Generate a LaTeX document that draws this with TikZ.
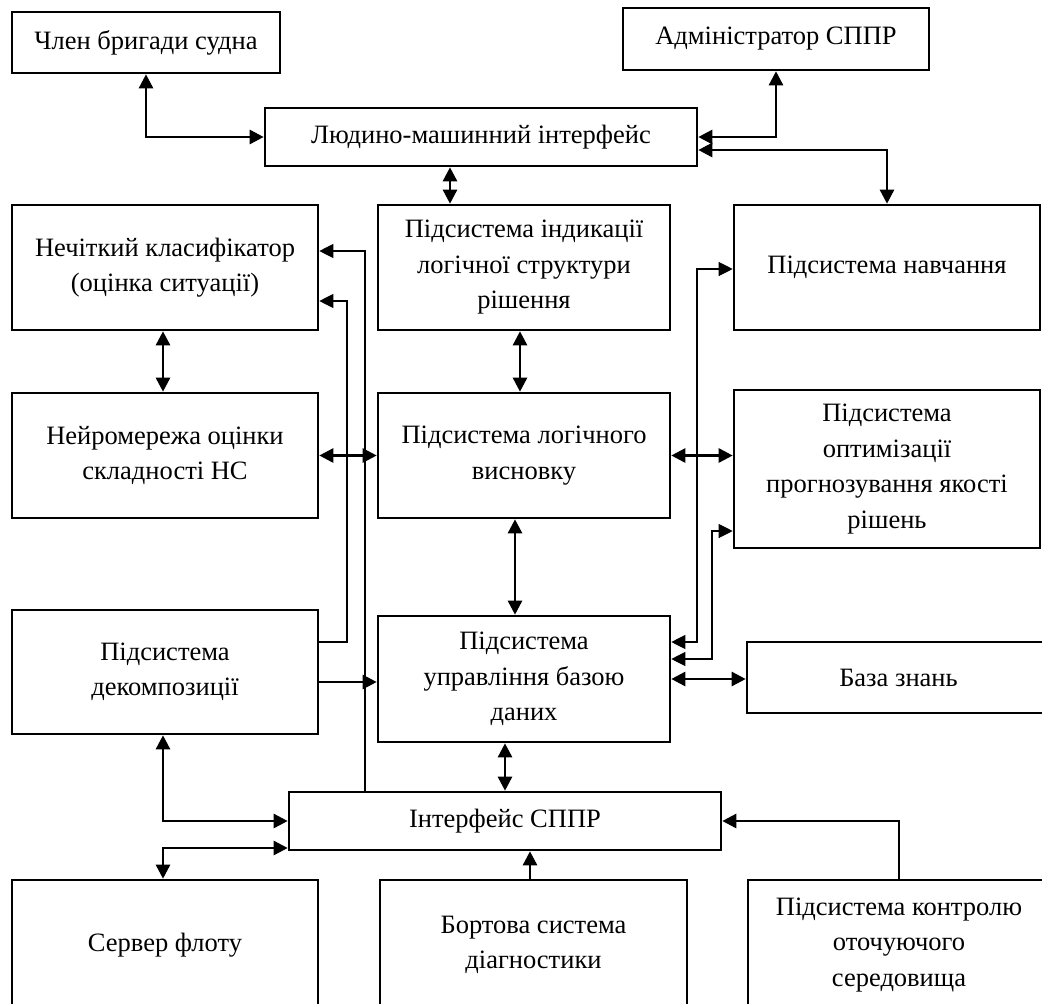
\documentclass[tikz,border=0pt]{standalone}
\usepackage{fontspec}
\setmainfont{Liberation Serif}
\usetikzlibrary{arrows.meta}
\begin{document}
\begin{tikzpicture}[x=1pt,y=-1pt,
  box/.style={draw,line width=2.6pt,rectangle,inner sep=0pt,align=center,
    font=\fontsize{26.5}{35.5}\selectfont},
  conn/.style={line width=2.6pt,{Triangle[length=14pt,width=14pt]}-{Triangle[length=14pt,width=14pt]}},
  conn1/.style={line width=2.6pt,-{Triangle[length=14pt,width=14pt]}},
  thinconn/.style={line width=1.2pt,{Triangle[length=14pt,width=14pt]}-{Triangle[length=14pt,width=14pt]}},
  thinconn1/.style={line width=1.2pt,-{Triangle[length=14pt,width=14pt]}}]
\useasboundingbox (0,0) rectangle (1042,1004);
\clip (0,0) rectangle (1042,1004);
\node[box,minimum width=268pt,minimum height=61pt] (crew) at (146,42.5) {Член бригади судна};
\node[box,minimum width=306pt,minimum height=62pt] (admin) at (776,39) {Адміністратор СППР};
\node[box,minimum width=432pt,minimum height=58pt] (hmi) at (481,137) {Людино-машинний інтерфейс};
\node[box,minimum width=306pt,minimum height=125pt] (fuzzy) at (165,267.5) {Нечіткий класифікатор\\(оцінка ситуації)};
\node[box,minimum width=292pt,minimum height=125pt] (ind) at (524,267.5) {Підсистема індикації\\логічної структури\\рішення};
\node[box,minimum width=306pt,minimum height=125pt] (learn) at (887,267.5) {Підсистема навчання};
\node[box,minimum width=306pt,minimum height=125pt] (nn) at (165,455.5) {Нейромережа оцінки\\складності НС};
\node[box,minimum width=292pt,minimum height=125pt] (infer) at (524,455.5) {Підсистема логічного\\висновку};
\node[box,minimum width=306pt,minimum height=158pt] (opt) at (887,469) {Підсистема\\оптимізації\\прогнозування якості\\рішень};
\node[box,minimum width=306pt,minimum height=124pt] (decomp) at (165,672) {Підсистема\\декомпозиції};
\node[box,minimum width=292pt,minimum height=126pt] (db) at (524,679) {Підсистема\\управління базою\\даних};
\node[box,minimum width=303pt,minimum height=71pt] (kb) at (898.5,677.5) {База знань};
\node[box,minimum width=432pt,minimum height=58pt] (dss) at (505,821) {Інтерфейс СППР};
\node[box,minimum width=306pt,minimum height=130pt] (fleet) at (165,945) {Сервер флоту};
\node[box,minimum width=307pt,minimum height=130pt] (onboard) at (533.5,945) {Бортова система\\діагностики};
\node[box,minimum width=302pt,minimum height=130pt] (env) at (899,945) {Підсистема контролю\\оточуючого\\середовища};
% thick connectors
\draw[conn] (crew.south) |- (hmi.west);
\draw[conn] (admin.south) |- (hmi.east);
\draw[conn] ([yshift=-13pt]hmi.east) -| (learn.north);
\draw[conn] ([xshift=-31pt]hmi.south) -- ([xshift=-31pt]hmi.south |- ind.north);
\draw[conn] ([xshift=-4pt]ind.south) -- ([xshift=-4pt]infer.north);
\draw[conn] ([xshift=-2pt]fuzzy.south) -- ([xshift=-2pt]nn.north);
\draw[conn] (nn.east) -- (infer.west);
\draw[conn] (infer.east) -- (infer.east -| opt.west);
\draw[conn] ([xshift=-9pt]infer.south) -- ([xshift=-9pt]db.north);
\draw[conn1] ([yshift=-10pt]decomp.east) -- ([yshift=-10pt]decomp.east -| db.west);
\draw[conn] (db.east) -- (db.east -| kb.west);
\draw[conn] (dss.north |- db.south) -- (dss.north);
\draw[conn] ([xshift=-2pt]decomp.south) |- (dss.west);
\draw[conn] ([xshift=-2pt]fleet.north) |- ([yshift=-27pt]dss.west);
\draw[conn1] ([xshift=-3.5pt]onboard.north) -- ([xshift=-3.5pt]onboard.north |- dss.south);
\draw[conn1] (env.north) |- (dss.east);
% thin connectors
\coordinate (k1) at (347,301);
\coordinate (k2) at (365,251);
\draw[thinconn1] ([yshift=30pt]decomp.east) -| (k1) -- (k1 -| fuzzy.east);
\draw[thinconn1] (k2 |- dss.north) -- (k2) -- (k2 -| fuzzy.east);
\coordinate (r1) at (697,642);
\coordinate (r2) at (697,269);
\coordinate (r3) at (712,659);
\coordinate (r4) at (712,531);
\draw[thinconn] (r1 -| db.east) -- (r1) -- (r2) -- (r2 -| learn.west);
\draw[thinconn] (r3 -| db.east) -- (r3) -- (r4) -- (r4 -| opt.west);
\end{tikzpicture}
\end{document}
